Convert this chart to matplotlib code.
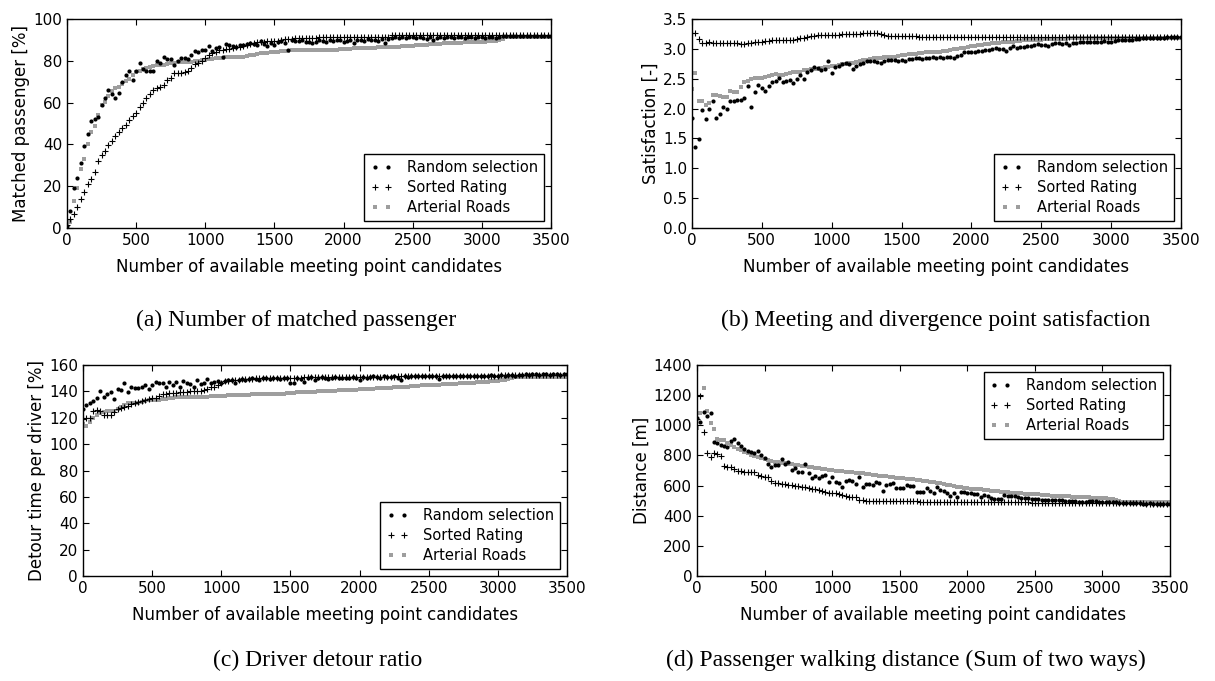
"""Meeting point candidate study: four panels comparing selection strategies."""

import matplotlib
matplotlib.use("Agg")
import matplotlib.pyplot as plt

candidates = list(range(0, 3501, 25))

# (a) matched passenger [%]
matched_random = [
    1, 8, 19, 24, 31, 39, 45, 51, 52, 53,
    59, 62, 66, 64, 62, 64.5, 70, 73, 75, 71,
    75, 79, 76, 75, 75, 75, 80, 79, 82, 81,
    81, 78, 80, 81.5, 81.5, 81, 83, 84.5, 84, 85,
    85, 87, 84.5, 86, 86.5, 82, 88, 87.5, 87, 86.8,
    87.5, 87.5, 88, 88.3, 88, 87.5, 89.5, 88, 87, 88.5,
    87.5, 89, 89.5, 88.5, 85, 90, 89.5, 89.5, 90, 89,
    89, 88.5, 89, 90, 89.5, 89, 90, 89.5, 90, 90,
    89, 89.5, 90, 88.5, 90, 90, 89.5, 90.5, 90, 90,
    89.5, 90.5, 88.5, 90.5, 91, 91.5, 91, 91.5, 91, 91.5,
    91.5, 91, 91.5, 91, 90.5, 91.5, 90, 91, 91.5, 91,
    91.5, 91.5, 91, 91.5, 91.5, 91, 91.5, 91.5, 91, 91.5,
    91.5, 91, 91.5, 91.5, 91, 91.5, 92, 92, 92, 92,
    92, 92, 92, 92, 92, 92, 92, 92, 92, 92,
    92,
]
matched_sorted = [
    1.5, 4.5, 6.5, 10, 14, 17, 21, 23.5, 27, 32,
    35, 37, 39.5, 41.5, 44, 46, 48, 49.5, 51.5, 53.5,
    55, 58, 60, 62, 64, 66, 67, 67.5, 68.5, 71,
    72, 74, 74, 74, 74.5, 75, 76.5, 78.5, 78.8, 80,
    81.5, 83, 83.5, 84.3, 85, 85.2, 85.5, 85.8, 86, 86.8,
    86.8, 87, 87.6, 88.2, 88.7, 89, 89.2, 89.2, 89.3, 89.5,
    89.6, 89.6, 89.8, 90.2, 90.4, 90.6, 90.8, 90.8, 90.9, 91,
    91, 91.1, 91.1, 91.2, 91.2, 91.3, 91.3, 91.3, 91.4, 91.4,
    91.4, 91.4, 91.5, 91.5, 91.5, 91.5, 91.5, 91.5, 91.5, 91.5,
    91.5, 91.5, 91.5, 91.5, 92.2, 92.3, 92.3, 92.3, 92.3, 92.3,
    92.3, 92.3, 92.3, 92.3, 92.3, 92.3, 92.3, 92.3, 92.3, 92.3,
    92.3, 92.3, 92.3, 92.3, 92.3, 92.3, 92.3, 92.3, 92.3, 92.3,
    92.3, 92.3, 92.3, 92.3, 92.3, 92.3, 92.3, 92.3, 92.3, 92.3,
    92.3, 92.3, 92.3, 92.3, 92.3, 92.3, 92.3, 92.3, 92.3, 92.3,
    92.3,
]
matched_arterial = [
    0.5, 3, 13, 19, 28, 33, 40, 46, 49, 54,
    59, 60.5, 63, 65.5, 67, 67.5, 69, 70.5, 71.5, 73,
    74.5, 75, 76, 76.5, 77, 77.5, 78, 78, 78, 78.5,
    79, 79, 79.5, 79.5, 79.5, 79.6, 79.6, 79.8, 80, 80.3,
    80.6, 81, 81, 81.2, 81.3, 81.5, 81.6, 81.7, 81.8, 81.9,
    82, 82, 82.5, 82.8, 83, 83.3, 83.6, 83.7, 83.8, 84,
    84, 84.3, 84.5, 84.7, 84.9, 85, 85, 85, 85, 85,
    85.1, 85.1, 85.2, 85.2, 85.2, 85.2, 85.3, 85.3, 85.4, 85.5,
    85.6, 85.7, 85.8, 85.9, 85.9, 86, 86, 86.1, 86.2, 86.3,
    86.4, 86.5, 86.6, 86.7, 86.7, 86.8, 86.8, 87, 87.1, 87.2,
    87.3, 87.4, 87.5, 87.5, 87.6, 87.8, 88, 88.1, 88.2, 88.3,
    88.4, 88.5, 88.6, 88.7, 88.7, 88.8, 88.8, 88.9, 88.9, 89,
    89, 89.2, 89.3, 89.4, 89.5, 89.8, 90.5, 91.2, 91.3, 91.3,
    91.3, 91.3, 91.3, 91.3, 91.3, 91.3, 91.3, 91.3, 91.3, 91.3,
    91.3,
]

# (b) satisfaction [-]
satis_random = [
    1.84, 1.35, 1.49, 1.98, 1.83, 1.99, 2.13, 1.85, 1.91, 2.03,
    2.00, 2.13, 2.12, 2.14, 2.15, 2.18, 2.38, 2.03, 2.27, 2.40,
    2.34, 2.30, 2.38, 2.45, 2.47, 2.51, 2.45, 2.46, 2.48, 2.42,
    2.49, 2.56, 2.50, 2.62, 2.64, 2.70, 2.68, 2.65, 2.67, 2.79,
    2.59, 2.70, 2.72, 2.74, 2.77, 2.75, 2.66, 2.72, 2.74, 2.76,
    2.80, 2.79, 2.80, 2.78, 2.77, 2.80, 2.81, 2.81, 2.82, 2.80,
    2.81, 2.80, 2.83, 2.83, 2.84, 2.84, 2.83, 2.84, 2.85, 2.86,
    2.85, 2.86, 2.84, 2.86, 2.87, 2.85, 2.88, 2.89, 2.94, 2.94,
    2.95, 2.95, 2.96, 2.97, 2.98, 2.98, 2.99, 3.01, 3.00, 2.99,
    2.97, 3.01, 3.04, 3.02, 3.03, 3.03, 3.05, 3.04, 3.06, 3.08,
    3.07, 3.06, 3.05, 3.08, 3.09, 3.09, 3.08, 3.10, 3.07, 3.10,
    3.10, 3.11, 3.11, 3.11, 3.12, 3.12, 3.12, 3.12, 3.13, 3.12,
    3.12, 3.13, 3.15, 3.15, 3.14, 3.15, 3.15, 3.16, 3.17, 3.18,
    3.19, 3.19, 3.19, 3.19, 3.19, 3.19, 3.20, 3.20, 3.20, 3.20,
    3.20,
]
satis_sorted = [
    3.27, 3.26, 3.16, 3.10, 3.09, 3.11, 3.10, 3.09, 3.10, 3.10,
    3.10, 3.10, 3.09, 3.09, 3.08, 3.08, 3.09, 3.10, 3.11, 3.12,
    3.12, 3.13, 3.13, 3.14, 3.14, 3.14, 3.15, 3.15, 3.15, 3.15,
    3.16, 3.18, 3.19, 3.20, 3.21, 3.22, 3.23, 3.24, 3.24, 3.24,
    3.24, 3.24, 3.24, 3.25, 3.25, 3.25, 3.25, 3.25, 3.25, 3.26,
    3.26, 3.27, 3.27, 3.26, 3.25, 3.23, 3.22, 3.21, 3.21, 3.21,
    3.21, 3.21, 3.21, 3.21, 3.21, 3.20, 3.20, 3.20, 3.20, 3.20,
    3.20, 3.20, 3.20, 3.20, 3.20, 3.20, 3.20, 3.20, 3.20, 3.20,
    3.20, 3.20, 3.20, 3.20, 3.20, 3.20, 3.20, 3.20, 3.20, 3.20,
    3.20, 3.20, 3.20, 3.20, 3.20, 3.20, 3.20, 3.20, 3.20, 3.20,
    3.20, 3.20, 3.20, 3.20, 3.20, 3.20, 3.20, 3.20, 3.20, 3.20,
    3.20, 3.20, 3.20, 3.20, 3.20, 3.20, 3.20, 3.20, 3.20, 3.20,
    3.20, 3.20, 3.20, 3.20, 3.20, 3.20, 3.20, 3.20, 3.20, 3.20,
    3.20, 3.20, 3.20, 3.20, 3.20, 3.20, 3.20, 3.20, 3.20, 3.20,
    3.20,
]
satis_arterial = [
    2.32, 2.60, 2.12, 2.13, 2.06, 2.10, 2.22, 2.23, 2.21, 2.20,
    2.20, 2.30, 2.28, 2.27, 2.36, 2.44, 2.47, 2.49, 2.51, 2.51,
    2.52, 2.53, 2.55, 2.56, 2.58, 2.57, 2.56, 2.58, 2.60, 2.61,
    2.62, 2.62, 2.64, 2.65, 2.66, 2.67, 2.67, 2.68, 2.70, 2.70,
    2.71, 2.72, 2.73, 2.74, 2.75, 2.76, 2.77, 2.78, 2.80, 2.81,
    2.82, 2.83, 2.84, 2.84, 2.85, 2.86, 2.86, 2.87, 2.87, 2.88,
    2.89, 2.90, 2.91, 2.91, 2.92, 2.93, 2.93, 2.94, 2.94, 2.95,
    2.95, 2.95, 2.96, 2.97, 2.98, 2.99, 3.00, 3.01, 3.02, 3.03,
    3.04, 3.05, 3.06, 3.07, 3.08, 3.08, 3.09, 3.09, 3.10, 3.11,
    3.11, 3.12, 3.12, 3.13, 3.13, 3.14, 3.14, 3.14, 3.15, 3.15,
    3.15, 3.16, 3.16, 3.16, 3.17, 3.17, 3.17, 3.17, 3.18, 3.18,
    3.18, 3.18, 3.18, 3.18, 3.18, 3.18, 3.18, 3.18, 3.18, 3.18,
    3.18, 3.18, 3.18, 3.18, 3.18, 3.19, 3.19, 3.19, 3.19, 3.19,
    3.19, 3.19, 3.19, 3.19, 3.19, 3.19, 3.19, 3.19, 3.19, 3.19,
    3.19,
]

# (c) detour time per driver [%]
detour_random = [
    127, 129.7, 131.4, 133, 134.7, 140.3, 136, 138, 139.5, 134,
    141.5, 141, 146, 139.5, 143, 142.3, 142.8, 143, 144.8, 141.5,
    145, 146.9, 146.5, 146.5, 143.6, 147, 145, 147.4, 143, 148,
    146, 145.5, 143.5, 149, 145.5, 146, 149.4, 146.5, 147, 147.5,
    146.5, 148, 148.5, 149, 146.5, 149, 149.5, 148.5, 149.5, 150,
    149.5, 149, 150, 150, 149.5, 150.5, 150, 149.5, 150.5, 150,
    146, 146, 150, 149.5, 147, 150.5, 151, 149, 150.5, 151,
    150, 149.5, 150.5, 151, 150, 150.5, 150.5, 150, 151, 150.5,
    148.3, 151, 150.5, 151, 151.5, 151, 150.5, 151.5, 151, 151,
    151.5, 150.5, 149, 151.5, 151, 152, 151.5, 151.5, 152, 151.5,
    152, 151.5, 152, 149.5, 152, 151.5, 152, 152, 151.5, 152,
    152, 151.5, 152, 152, 152, 151.5, 152, 152, 152.5, 152,
    152, 152.5, 152, 152.5, 152.5, 152, 152.5, 152.5, 153, 152.5,
    153, 153, 152.5, 153, 153, 152.5, 153, 153, 152.5, 153,
    153,
]
detour_sorted = [
    119, 119.6, 120, 125.4, 126, 125.4, 122, 122, 122, 124.6,
    126.6, 127.1, 128, 129, 130.4, 131.2, 132, 133, 133.8, 134.2,
    134.7, 135.3, 136.2, 137.8, 138.2, 138.5, 138.8, 139, 139.2, 139.4,
    139.7, 140, 140.3, 140.5, 140.6, 141, 141.8, 143, 143.6, 144.5,
    146, 147.5, 148.2, 148.6, 148.8, 149, 149.2, 149.4, 149.5, 149.6,
    149.8, 149.8, 149.9, 150, 150, 150.1, 150.1, 150.2, 150.2, 150.3,
    150.4, 150.5, 150.5, 150.5, 150.6, 150.6, 150.7, 150.7, 150.8, 150.8,
    150.8, 150.9, 150.9, 150.9, 151, 151, 151, 151, 151, 151,
    151, 151, 151.1, 151.1, 151.1, 151.1, 151.2, 151.2, 151.2, 151.2,
    151.2, 151.3, 151.3, 151.3, 151.3, 151.3, 151.4, 151.4, 151.4, 151.4,
    151.4, 151.4, 151.5, 151.5, 151.5, 151.5, 151.5, 151.5, 151.5, 151.5,
    151.5, 151.5, 151.5, 151.6, 151.6, 151.6, 151.6, 151.7, 151.7, 151.8,
    152, 152.1, 152.2, 152.3, 152.3, 152.4, 152.4, 152.4, 152.4, 152.4,
    152.4, 152.4, 152.4, 152.4, 152.4, 152.4, 152.4, 152.4, 152.4, 152.4,
    152.4,
]
detour_arterial = [
    115, 114, 117, 120, 121.8, 123.4, 124.3, 125, 125.4, 125.4,
    126.5, 128.3, 130, 131, 131.5, 131, 131.5, 132, 132.5, 133.3,
    133.5, 133.5, 133.5, 134, 134.3, 134.7, 135.3, 136, 136, 136,
    136, 136, 136, 136, 136, 136.1, 136.1, 136.2, 136.2, 136.3,
    136.3, 136.8, 137.3, 137.3, 137.3, 137.4, 137.4, 137.5, 137.6, 137.7,
    137.8, 137.9, 138, 138, 138, 138, 138, 138.1, 138.2, 138.4,
    138.8, 139, 139.2, 139.4, 139.6, 139.8, 139.8, 139.9, 140, 140.1,
    140.3, 140.4, 140.5, 140.6, 140.8, 141, 141.1, 141.2, 141.3, 141.4,
    141.5, 141.6, 141.8, 141.9, 142.1, 142.3, 142.4, 142.6, 142.8, 142.9,
    143, 143.2, 143.4, 143.5, 143.7, 143.9, 144.1, 144.3, 144.5, 144.6,
    144.8, 144.9, 145.1, 145.2, 145.4, 145.5, 145.6, 145.7, 145.9, 146,
    146, 146.2, 146.4, 146.6, 146.8, 147, 147.2, 147.4, 147.6, 147.8,
    148, 148.5, 149, 149.5, 150.2, 151, 151, 151, 151, 151,
    151, 151, 151, 151, 151, 151, 151, 151, 151, 151,
    151,
]

# (d) walking distance [m]
walk_random = [
    1046, 1020, 1086, 1062, 1084, 887, 880, 869, 865, 858,
    898, 907, 880, 863, 845, 829, 820, 814, 832, 800,
    785, 743, 721, 737, 737, 776, 740, 759, 703, 714,
    692, 692, 741, 681, 653, 666, 653, 666, 670, 626,
    659, 622, 615, 593, 633, 637, 633, 610, 655, 593,
    610, 610, 604, 626, 615, 566, 604, 610, 619, 582,
    586, 586, 604, 597, 597, 555, 555, 555, 586, 566,
    549, 588, 571, 566, 549, 531, 553, 526, 555, 555,
    549, 549, 544, 544, 526, 537, 530, 520, 509, 512,
    512, 537, 530, 531, 531, 525, 520, 518, 515, 512,
    509, 509, 507, 506, 505, 504, 503, 502, 501, 500,
    499, 497, 495, 493, 493, 494, 495, 496, 495, 494,
    492, 490, 489, 489, 488, 486, 484, 482, 482, 482,
    482, 482, 481, 481, 482, 481, 481, 481, 481, 481,
    481,
]
walk_sorted = [
    1040, 1194, 953, 818, 792, 814, 809, 796, 730, 726,
    721, 708, 700, 695, 692, 692, 692, 692, 672, 666,
    660, 655, 630, 620, 615, 612, 608, 605, 602, 598,
    595, 593, 588, 583, 580, 574, 569, 565, 560, 554,
    551, 549, 542, 538, 531, 527, 524, 522, 505, 502,
    500, 500, 499, 499, 498, 498, 497, 497, 497, 496,
    496, 496, 495, 495, 495, 495, 494, 494, 494, 494,
    494, 493, 493, 493, 493, 493, 493, 492, 492, 492,
    492, 491, 491, 491, 491, 490, 490, 490, 490, 490,
    489, 489, 489, 489, 488, 488, 488, 488, 488, 487,
    487, 487, 487, 486, 486, 486, 486, 486, 485, 485,
    485, 485, 485, 484, 484, 484, 484, 484, 484, 483,
    483, 483, 483, 483, 483, 482, 482, 482, 482, 482,
    482, 482, 482, 481, 481, 481, 481, 481, 481, 481,
    481,
]
walk_arterial = [
    980, 1084, 1245, 1097, 1017, 973, 907, 905, 900, 882,
    868, 856, 846, 838, 826, 816, 804, 794, 789, 783,
    774, 768, 762, 758, 755, 752, 749, 745, 742, 739,
    735, 732, 728, 725, 722, 718, 715, 712, 709, 706,
    703, 700, 698, 695, 693, 690, 688, 685, 683, 681,
    678, 675, 672, 669, 666, 664, 661, 658, 656, 653,
    651, 648, 646, 643, 641, 638, 635, 632, 629, 626,
    623, 619, 615, 610, 606, 602, 597, 592, 588, 585,
    582, 580, 578, 576, 574, 571, 568, 566, 564, 562,
    560, 558, 556, 554, 552, 550, 548, 546, 545, 544,
    543, 541, 539, 537, 535, 534, 533, 532, 531, 530,
    528, 527, 526, 525, 524, 523, 522, 520, 519, 518,
    517, 515, 512, 508, 503, 498, 494, 490, 489, 489,
    489, 489, 489, 490, 490, 490, 490, 490, 490, 490,
    490,
]

series_labels = ["Random selection", "Sorted Rating", "Arterial Roads"]
xlabel = "Number of available meeting point candidates"

panels = [
    dict(data=(matched_random, matched_sorted, matched_arterial),
         ylabel="Matched passenger [%]", ylim=(0, 100), yticks=range(0, 101, 20),
         fmt="{:.0f}", loc="lower right",
         caption="(a) Number of matched passenger",
         rect=[0.0551, 0.6652, 0.3984, 0.3069], cap_xy=(296, 320)),
    dict(data=(satis_random, satis_sorted, satis_arterial),
         ylabel="Satisfaction [-]", ylim=(0, 3.5),
         yticks=[0.0, 0.5, 1.0, 1.5, 2.0, 2.5, 3.0, 3.5],
         fmt="{:.1f}", loc="lower right",
         caption="(b) Meeting and divergence point satisfaction",
         rect=[0.5695, 0.6652, 0.4025, 0.3069], cap_xy=(936, 320)),
    dict(data=(detour_random, detour_sorted, detour_arterial),
         ylabel="Detour time per driver [%]", ylim=(0, 160), yticks=range(0, 161, 20),
         fmt="{:.0f}", loc="lower right",
         caption="(c) Driver detour ratio",
         rect=[0.0683, 0.1542, 0.3984, 0.3098], cap_xy=(318, 660)),
    dict(data=(walk_random, walk_sorted, walk_arterial),
         ylabel="Distance [m]", ylim=(0, 1400), yticks=range(0, 1401, 200),
         fmt="{:.0f}", loc="upper right",
         caption="(d) Passenger walking distance (Sum of two ways)",
         rect=[0.5737, 0.1542, 0.3893, 0.3098], cap_xy=(906, 660)),
]

W, H = 1215, 681
fig = plt.figure(figsize=(W / 100, H / 100), dpi=100)

for p in panels:
    ax = fig.add_axes(p["rect"])
    rnd, srt, art = p["data"]
    ax.plot(candidates, rnd, linestyle="none", marker="o", markersize=3.0,
            color="black", markeredgewidth=0, label=series_labels[0], zorder=3)
    ax.plot(candidates, srt, linestyle="none", marker="+", markersize=5,
            color="black", markeredgewidth=0.8, label=series_labels[1], zorder=3)
    ax.plot(candidates, art, linestyle="none", marker="s", markersize=3.3,
            color="0.62", markeredgewidth=0, label=series_labels[2], zorder=2)

    ax.set_xlim(0, 3500)
    ax.set_xticks(range(0, 3501, 500))
    ax.set_ylim(*p["ylim"])
    ax.set_yticks(list(p["yticks"]))
    ax.set_yticklabels([p["fmt"].format(v) for v in p["yticks"]])
    ax.tick_params(direction="in", top=True, right=True, length=4, width=0.8,
                   labelsize=11, pad=3.5)
    for s in ax.spines.values():
        s.set_linewidth(1.0)
    ax.set_xlabel(xlabel, fontsize=12, labelpad=7)
    ax.set_ylabel(p["ylabel"], fontsize=12, labelpad=2)

    leg = ax.legend(loc=p["loc"], numpoints=2, fontsize=10.5, fancybox=False,
                    framealpha=1, edgecolor="black", handlelength=1.5,
                    handletextpad=1.0, borderpad=0.4, labelspacing=0.35,
                    borderaxespad=0.5)
    leg.get_frame().set_linewidth(1.0)

    cx, cy = p["cap_xy"]
    fig.text(cx / W, 1 - cy / H, p["caption"], ha="center", va="center",
             fontsize=17, family="Liberation Serif")

fig.savefig("out.png", dpi=100)
